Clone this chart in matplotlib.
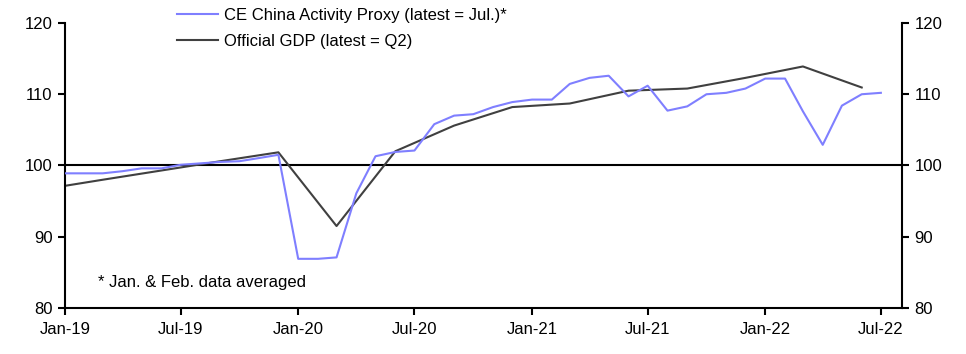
import matplotlib
matplotlib.use("Agg")
import matplotlib.pyplot as plt
import matplotlib.dates as mdates
import pandas as pd

plt.rcParams['font.family'] = ['Liberation Sans', 'DejaVu Sans']
plt.rcParams['font.size'] = 12

# CE China Activity Proxy, monthly (Jan & Feb averaged)
proxy_dates = pd.date_range('2019-01-01', '2022-07-01', freq='MS')
proxy_vals = [98.9, 98.9, 98.9, 99.2, 99.6, 99.6, 100.1, 100.3, 100.5, 100.6, 101.05, 101.5,
              86.9, 86.9, 87.1, 96.1, 101.3, 101.9, 102.1, 105.8, 107.0, 107.2, 108.2, 108.9,
              109.25, 109.25, 111.45, 112.3, 112.6, 109.7, 111.2, 107.7, 108.3, 110.0, 110.2, 110.8,
              112.2, 112.2, 107.6, 102.9, 108.4, 110.0, 110.2]

# Official GDP, quarterly (plotted at quarter-end month)
gdp_dates = pd.date_range('2018-12-01', '2022-06-01', freq='3MS')
gdp_vals = [96.7, 98.0, 99.3, 100.6, 101.85, 91.5, 102.0, 105.6, 108.2, 108.7,
            110.5, 110.8, 112.3, 113.9, 110.95]

proxy_label = 'CE China Activity Proxy (latest = Jul.)*'
gdp_label = 'Official GDP (latest = Q2)'

fig = plt.figure(figsize=(9.66, 3.54), dpi=100)
ax = fig.add_axes([0.0673, 0.130, 0.8664, 0.805])

ax.axhline(100, color='black', lw=1.5, zorder=1)
ax.plot(proxy_dates, proxy_vals, color='#7f7fff', lw=1.5, label=proxy_label, zorder=3)
ax.plot(gdp_dates, gdp_vals, color='#404040', lw=1.5, label=gdp_label, zorder=2)

ax.set_xlim(pd.Timestamp('2019-01-01'), pd.Timestamp('2022-08-03'))
ax.set_ylim(80, 120)
ax.set_yticks([80, 90, 100, 110, 120])
ax.xaxis.set_major_locator(mdates.MonthLocator(bymonth=[1, 7]))
ax.xaxis.set_major_formatter(mdates.DateFormatter('%b-%y'))

for s in ['left', 'bottom', 'right']:
    ax.spines[s].set_linewidth(1.5)
ax.spines['top'].set_visible(False)
ax.tick_params(axis='both', direction='out', length=5, width=1.5, colors='black', pad=4)
ax.tick_params(axis='y', right=True, labelright=True)
ax.tick_params(axis='x', pad=5)

ax.text(pd.Timestamp('2019-02-22'), 83.6, '* Jan. & Feb. data averaged', va='center', ha='left')

ax.legend(loc='upper left', bbox_to_anchor=(0.183, 0.977), bbox_transform=fig.transFigure,
          frameon=False, handlelength=2.5, handletextpad=0.35, labelspacing=0.66,
          borderaxespad=0, borderpad=0)

fig.savefig('out.png', dpi=100)
